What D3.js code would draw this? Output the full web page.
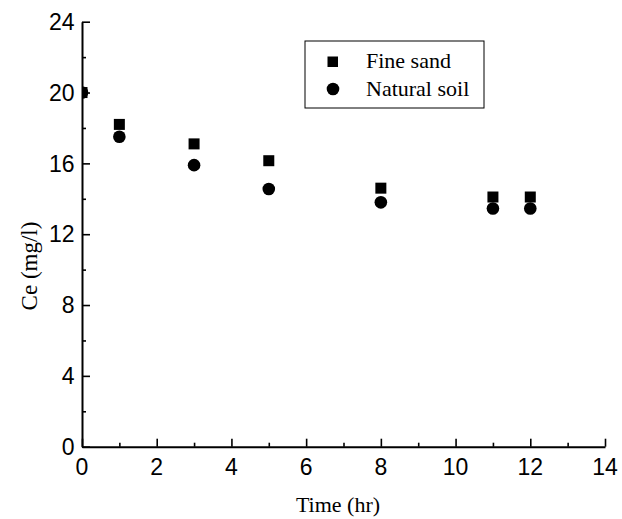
<!DOCTYPE html>
<html>
<head>
<meta charset="utf-8">
<script src="https://cdn.jsdelivr.net/npm/d3@7"></script>
<style>
  html, body { margin: 0; padding: 0; background: #fff; }
  svg { display: block; }
  text { fill: #000; -webkit-font-smoothing: antialiased; }
</style>
</head>
<body>
<svg id="chart" width="622" height="519"></svg>
<script>
// Concentration over time for two media
const timeHr = [0, 1, 3, 5, 8, 11, 12];
const fineSand = [20, 18.2, 17.1, 16.15, 14.6, 14.1, 14.1];
const naturalSoil = [20, 17.5, 15.9, 14.55, 13.8, 13.45, 13.45];
const xTicks = [0, 2, 4, 6, 8, 10, 12, 14];
const yTicks = [0, 4, 8, 12, 16, 20, 24];
const seriesNames = ["Fine sand", "Natural soil"];

const svg = d3.select("#chart");
const margin = { left: 82, right: 17, top: 21.7, bottom: 72.3 };
const W = 622, H = 519;

const x = d3.scaleLinear().domain([0, 14]).range([margin.left, W - margin.right]);
const y = d3.scaleLinear().domain([0, 24]).range([H - margin.bottom, margin.top]);

const sansFont = "'Liberation Sans', Arial, sans-serif";
const serifFont = "'Liberation Serif', 'Times New Roman', serif";

// clip markers to the plotting area
svg.append("defs").append("clipPath").attr("id", "plotClip")
  .append("rect")
  .attr("x", x(0)).attr("y", y(24) - 10)
  .attr("width", x(14) - x(0) + 10).attr("height", y(0) - y(24) + 10);

// x axis: major and minor ticks point inward
const xAxis = d3.axisBottom(x).tickValues(d3.range(0, 15, 1))
  .tickSize(-8).tickSizeOuter(0).tickFormat("");
const gx = svg.append("g").attr("transform", `translate(0,${y(0)})`).call(xAxis);
gx.selectAll(".tick line")
  .attr("y2", d => (d % 2 === 0 ? -8 : -4));

const yAxis = d3.axisLeft(y).tickValues(d3.range(0, 25, 2))
  .tickSize(-8).tickSizeOuter(0).tickFormat("");
const gy = svg.append("g").attr("transform", `translate(${x(0)},0)`).call(yAxis);
gy.selectAll(".tick line")
  .attr("x2", d => (d % 4 === 0 ? 8 : 4));

[gx, gy].forEach(g => {
  g.select(".domain").attr("stroke", "#000").attr("stroke-width", 2);
  g.selectAll(".tick line").attr("stroke", "#000").attr("stroke-width", 1.6);
});

// tick labels
svg.append("g").selectAll("text").data(xTicks).join("text")
  .attr("x", d => x(d)).attr("y", y(0) + 28.5)
  .attr("text-anchor", "middle")
  .attr("font-family", sansFont).attr("font-size", 23)
  .text(d => d);

svg.append("g").selectAll("text").data(yTicks).join("text")
  .attr("x", x(0) - 7.5).attr("y", d => y(d) + 8.2)
  .attr("text-anchor", "end")
  .attr("font-family", sansFont).attr("font-size", 23)
  .text(d => d);

// axis titles
svg.append("text")
  .attr("x", 338).attr("y", 512)
  .attr("text-anchor", "middle")
  .attr("font-family", serifFont).attr("font-size", 22)
  .text("Time (hr)");

svg.append("text")
  .attr("transform", "translate(37,266) rotate(-90)")
  .attr("text-anchor", "middle")
  .attr("font-family", serifFont).attr("font-size", 23)
  .attr("fill", "#000")
  .text("Ce (mg/l)");

// data markers
const marks = svg.append("g").attr("clip-path", "url(#plotClip)");
const sq = 11;
marks.selectAll("rect.sand").data(timeHr).join("rect")
  .attr("class", "sand")
  .attr("x", (d, i) => x(d) - sq / 2).attr("y", (d, i) => y(fineSand[i]) - sq / 2)
  .attr("width", sq).attr("height", sq).attr("fill", "#000");
marks.selectAll("circle.soil").data(timeHr).join("circle")
  .attr("class", "soil")
  .attr("cx", d => x(d)).attr("cy", (d, i) => y(naturalSoil[i]))
  .attr("r", 6.3).attr("fill", "#000");

// legend
const lg = svg.append("g");
lg.append("rect").attr("x", 305).attr("y", 41).attr("width", 179).attr("height", 67)
  .attr("fill", "#fff").attr("stroke", "#000").attr("stroke-width", 1);
lg.append("rect").attr("x", 327.5).attr("y", 56.5).attr("width", 10.5).attr("height", 10.5).attr("fill", "#000");
lg.append("circle").attr("cx", 333).attr("cy", 89).attr("r", 6.3).attr("fill", "#000");
lg.selectAll("text").data(seriesNames).join("text")
  .attr("x", 366).attr("y", (d, i) => 67.5 + i * 28.5)
  .attr("font-family", serifFont).attr("font-size", 22)
  .text(d => d);
</script>
</body>
</html>
